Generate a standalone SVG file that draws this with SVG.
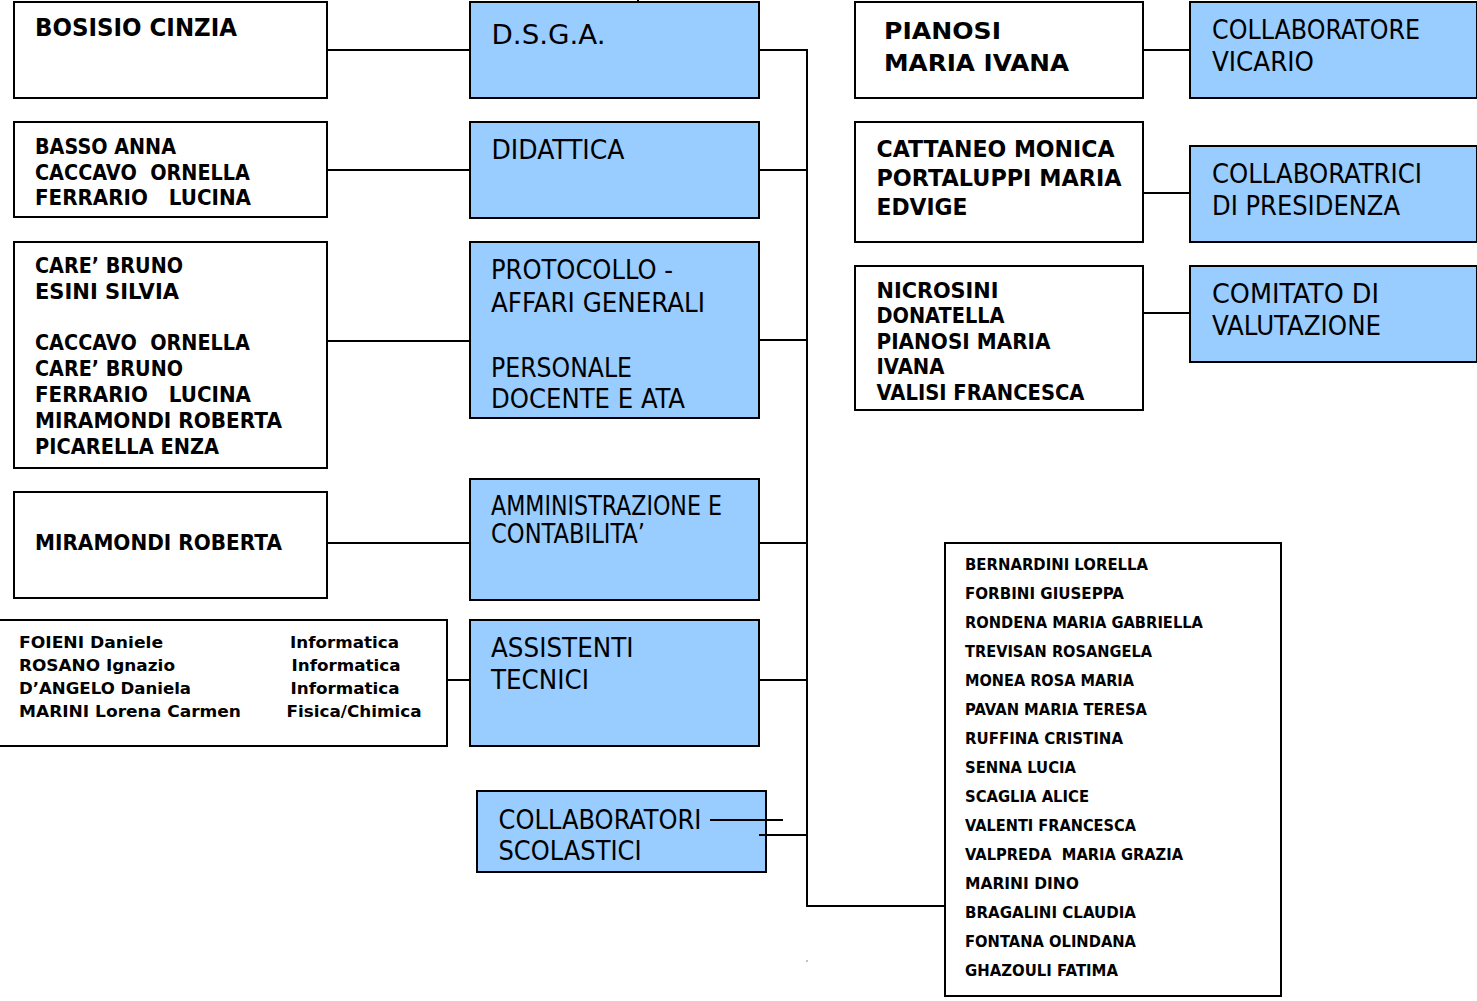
<svg xmlns="http://www.w3.org/2000/svg" width="1477" height="1001" viewBox="0 0 1477 1001">
<style>
.box{fill:#ffffff;stroke:#000;stroke-width:2}
.blue{fill:#99CCFF;stroke:#000;stroke-width:2}
.b{font-family:"DejaVu Sans",Verdana,sans-serif;font-weight:bold;fill:#000}
.r{font-family:"DejaVu Sans Condensed","DejaVu Sans",sans-serif;font-weight:normal;fill:#000;font-size:26px}
.conn line{stroke:#000;stroke-width:2;fill:none}
</style>
<rect x="0" y="0" width="1477" height="1001" fill="#ffffff"/>

<g id="connectors" class="conn">
  <line x1="327" y1="50" x2="470" y2="50"/>
  <line x1="327" y1="170" x2="470" y2="170"/>
  <line x1="327" y1="341" x2="470" y2="341"/>
  <line x1="327" y1="543" x2="470" y2="543"/>
  <line x1="447" y1="680" x2="470" y2="680"/>
  <line x1="759" y1="50" x2="808" y2="50"/>
  <line x1="759" y1="170" x2="807" y2="170"/>
  <line x1="759" y1="340" x2="807" y2="340"/>
  <line x1="759" y1="543" x2="807" y2="543"/>
  <line x1="759" y1="680" x2="807" y2="680"/>
  <line x1="807" y1="49" x2="807" y2="907"/>
  <line x1="806" y1="906" x2="945" y2="906"/>
  <line x1="1143" y1="50" x2="1190" y2="50"/>
  <line x1="1143" y1="193" x2="1190" y2="193"/>
  <line x1="1143" y1="313" x2="1190" y2="313"/>
  <line x1="638" y1="0" x2="638" y2="2"/>
</g>

<g id="n-bosisio">
  <rect class="box" x="14" y="2" width="313" height="96"/>
  <text class="b" x="35" y="36" font-size="24" textLength="202" lengthAdjust="spacingAndGlyphs">BOSISIO CINZIA</text>
</g>
<g id="n-basso">
  <rect class="box" x="14" y="122" width="313" height="95"/>
  <text class="b" font-size="21.5" xml:space="preserve"><tspan x="35" y="154" textLength="141" lengthAdjust="spacingAndGlyphs">BASSO ANNA</tspan><tspan x="35" y="180" textLength="215" lengthAdjust="spacingAndGlyphs">CACCAVO  ORNELLA</tspan><tspan x="35" y="205" textLength="216" lengthAdjust="spacingAndGlyphs">FERRARIO   LUCINA</tspan></text>
</g>
<g id="n-care">
  <rect class="box" x="14" y="242" width="313" height="226"/>
  <text class="b" font-size="21.5" xml:space="preserve"><tspan x="35" y="273" textLength="148" lengthAdjust="spacingAndGlyphs">CARE’ BRUNO</tspan><tspan x="35" y="299" textLength="144" lengthAdjust="spacingAndGlyphs">ESINI SILVIA</tspan><tspan x="35" y="350" textLength="215" lengthAdjust="spacingAndGlyphs">CACCAVO  ORNELLA</tspan><tspan x="35" y="376" textLength="148" lengthAdjust="spacingAndGlyphs">CARE’ BRUNO</tspan><tspan x="35" y="402" textLength="216" lengthAdjust="spacingAndGlyphs">FERRARIO   LUCINA</tspan><tspan x="35" y="428" textLength="247" lengthAdjust="spacingAndGlyphs">MIRAMONDI ROBERTA</tspan><tspan x="35" y="454" textLength="184" lengthAdjust="spacingAndGlyphs">PICARELLA ENZA</tspan></text>
</g>
<g id="n-miramondi">
  <rect class="box" x="14" y="492" width="313" height="106"/>
  <text class="b" x="35" y="550" font-size="21.5" textLength="247" lengthAdjust="spacingAndGlyphs">MIRAMONDI ROBERTA</text>
</g>
<g id="n-tecnici-names">
  <rect class="box" x="-2" y="620" width="449" height="126"/>
  <text class="b" font-size="16"><tspan x="19" y="648" textLength="144" lengthAdjust="spacingAndGlyphs">FOIENI Daniele</tspan><tspan x="19" y="671" textLength="156" lengthAdjust="spacingAndGlyphs">ROSANO Ignazio</tspan><tspan x="19" y="694" textLength="172" lengthAdjust="spacingAndGlyphs">D’ANGELO Daniela</tspan><tspan x="19" y="717" textLength="222" lengthAdjust="spacingAndGlyphs">MARINI Lorena Carmen</tspan></text>
  <text class="b" font-size="16"><tspan x="290" y="648" textLength="109" lengthAdjust="spacingAndGlyphs">Informatica</tspan><tspan x="291.5" y="671" textLength="109" lengthAdjust="spacingAndGlyphs">Informatica</tspan><tspan x="290.5" y="694" textLength="109" lengthAdjust="spacingAndGlyphs">Informatica</tspan><tspan x="286.5" y="717" textLength="135" lengthAdjust="spacingAndGlyphs">Fisica/Chimica</tspan></text>
</g>

<g id="n-dsga">
  <rect class="blue" x="470" y="2" width="289" height="96"/>
  <text class="r" x="491.5" y="44" font-size="32" textLength="114" lengthAdjust="spacingAndGlyphs">D.S.G.A.</text>
</g>
<g id="n-didattica">
  <rect class="blue" x="470" y="122" width="289" height="96"/>
  <text class="r" x="491.5" y="159" textLength="133" lengthAdjust="spacingAndGlyphs">DIDATTICA</text>
</g>
<g id="n-protocollo">
  <rect class="blue" x="470" y="242" width="289" height="176"/>
  <text class="r"><tspan x="491" y="279" textLength="182" lengthAdjust="spacingAndGlyphs">PROTOCOLLO -</tspan><tspan x="491" y="311.5" textLength="214" lengthAdjust="spacingAndGlyphs">AFFARI GENERALI</tspan><tspan x="491" y="376.5" textLength="141" lengthAdjust="spacingAndGlyphs">PERSONALE</tspan><tspan x="491" y="408" textLength="194" lengthAdjust="spacingAndGlyphs">DOCENTE E ATA</tspan></text>
</g>
<g id="n-amministrazione">
  <rect class="blue" x="470" y="479" width="289" height="121"/>
  <text class="r"><tspan x="491" y="515" textLength="231" lengthAdjust="spacingAndGlyphs">AMMINISTRAZIONE E</tspan><tspan x="491" y="543" textLength="154" lengthAdjust="spacingAndGlyphs">CONTABILITA’</tspan></text>
</g>
<g id="n-assistenti">
  <rect class="blue" x="470" y="620" width="289" height="126"/>
  <text class="r"><tspan x="491" y="657" textLength="142.5" lengthAdjust="spacingAndGlyphs">ASSISTENTI</tspan><tspan x="491" y="689" textLength="98" lengthAdjust="spacingAndGlyphs">TECNICI</tspan></text>
</g>
<g id="n-collaboratori">
  <rect class="blue" x="477" y="791" width="289" height="81"/>
  <text class="r"><tspan x="498.5" y="829" textLength="203" lengthAdjust="spacingAndGlyphs">COLLABORATORI</tspan><tspan x="498.5" y="860" textLength="143" lengthAdjust="spacingAndGlyphs">SCOLASTICI</tspan></text>
</g>
<g id="connectors-collaboratori" class="conn">
  <line x1="710" y1="820" x2="783" y2="820"/>
  <line x1="759" y1="835" x2="807" y2="835"/>
</g>

<g id="n-pianosi">
  <rect class="box" x="855" y="2" width="288" height="96"/>
  <text class="b" font-size="23"><tspan x="884" y="39" textLength="117" lengthAdjust="spacingAndGlyphs">PIANOSI</tspan><tspan x="884" y="71" textLength="185" lengthAdjust="spacingAndGlyphs">MARIA IVANA</tspan></text>
</g>
<g id="n-vicario">
  <rect class="blue" x="1190" y="2" width="287" height="96"/>
  <text class="r"><tspan x="1212" y="39" textLength="208" lengthAdjust="spacingAndGlyphs">COLLABORATORE</tspan><tspan x="1212" y="71" textLength="102" lengthAdjust="spacingAndGlyphs">VICARIO</tspan></text>
</g>
<g id="n-cattaneo">
  <rect class="box" x="855" y="122" width="288" height="120"/>
  <text class="b" font-size="23"><tspan x="876.5" y="157" textLength="238" lengthAdjust="spacingAndGlyphs">CATTANEO MONICA</tspan><tspan x="876.5" y="186" textLength="245" lengthAdjust="spacingAndGlyphs">PORTALUPPI MARIA</tspan><tspan x="876.5" y="215" textLength="91" lengthAdjust="spacingAndGlyphs">EDVIGE</tspan></text>
</g>
<g id="n-collaboratrici">
  <rect class="blue" x="1190" y="146" width="287" height="96"/>
  <text class="r"><tspan x="1212" y="183" textLength="210" lengthAdjust="spacingAndGlyphs">COLLABORATRICI</tspan><tspan x="1212" y="214.5" textLength="188" lengthAdjust="spacingAndGlyphs">DI PRESIDENZA</tspan></text>
</g>
<g id="n-nicrosini">
  <rect class="box" x="855" y="266" width="288" height="144"/>
  <text class="b" font-size="21.5"><tspan x="876.5" y="298" textLength="122" lengthAdjust="spacingAndGlyphs">NICROSINI</tspan><tspan x="876.5" y="323" textLength="128" lengthAdjust="spacingAndGlyphs">DONATELLA</tspan><tspan x="876.5" y="348.5" textLength="174" lengthAdjust="spacingAndGlyphs">PIANOSI MARIA</tspan><tspan x="876.5" y="374" textLength="68" lengthAdjust="spacingAndGlyphs">IVANA</tspan><tspan x="876.5" y="400" textLength="208" lengthAdjust="spacingAndGlyphs">VALISI FRANCESCA</tspan></text>
</g>
<g id="n-comitato">
  <rect class="blue" x="1190" y="266" width="287" height="96"/>
  <text class="r"><tspan x="1212" y="303" textLength="167" lengthAdjust="spacingAndGlyphs">COMITATO DI</tspan><tspan x="1212" y="334.5" textLength="169" lengthAdjust="spacingAndGlyphs">VALUTAZIONE</tspan></text>
</g>

<g id="n-lista">
  <rect class="box" x="945" y="543" width="336" height="453"/>
  <text class="b" font-size="16" xml:space="preserve"><tspan x="965" y="570" textLength="183" lengthAdjust="spacingAndGlyphs">BERNARDINI LORELLA</tspan><tspan x="965" y="599" textLength="159" lengthAdjust="spacingAndGlyphs">FORBINI GIUSEPPA</tspan><tspan x="965" y="628" textLength="238" lengthAdjust="spacingAndGlyphs">RONDENA MARIA GABRIELLA</tspan><tspan x="965" y="657" textLength="187" lengthAdjust="spacingAndGlyphs">TREVISAN ROSANGELA</tspan><tspan x="965" y="686" textLength="169" lengthAdjust="spacingAndGlyphs">MONEA ROSA MARIA</tspan><tspan x="965" y="715" textLength="182" lengthAdjust="spacingAndGlyphs">PAVAN MARIA TERESA</tspan><tspan x="965" y="744" textLength="158" lengthAdjust="spacingAndGlyphs">RUFFINA CRISTINA</tspan><tspan x="965" y="773" textLength="111" lengthAdjust="spacingAndGlyphs">SENNA LUCIA</tspan><tspan x="965" y="802" textLength="124" lengthAdjust="spacingAndGlyphs">SCAGLIA ALICE</tspan><tspan x="965" y="831" textLength="171" lengthAdjust="spacingAndGlyphs">VALENTI FRANCESCA</tspan><tspan x="965" y="860" textLength="218" lengthAdjust="spacingAndGlyphs">VALPREDA  MARIA GRAZIA</tspan><tspan x="965" y="889" textLength="114" lengthAdjust="spacingAndGlyphs">MARINI DINO</tspan><tspan x="965" y="918" textLength="171" lengthAdjust="spacingAndGlyphs">BRAGALINI CLAUDIA</tspan><tspan x="965" y="947" textLength="171" lengthAdjust="spacingAndGlyphs">FONTANA OLINDANA</tspan><tspan x="965" y="976" textLength="153" lengthAdjust="spacingAndGlyphs">GHAZOULI FATIMA</tspan></text>
</g>
<rect x="806.5" y="960" width="1" height="2" fill="#888"/>
</svg>
